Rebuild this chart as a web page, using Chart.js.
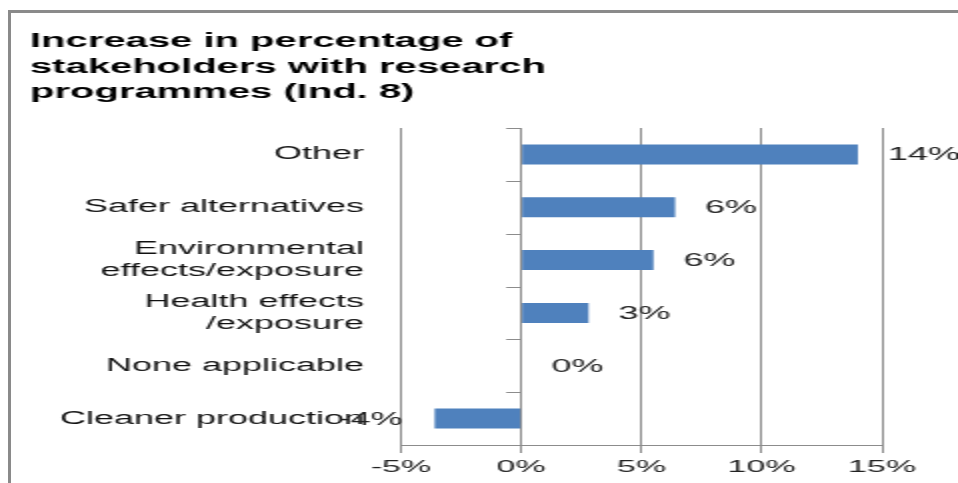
<!DOCTYPE html>
<html>
<head>
<meta charset="utf-8">
<script src="https://cdn.jsdelivr.net/npm/chart.js@4/dist/chart.umd.min.js"></script>
<style>
    html, body { margin: 0; padding: 0; background: #fff; overflow: hidden; }
    /* the original picture is stretched sideways, so the chart is drawn narrow and scaled */
    #wrap {
        position: absolute; left: 0; top: 0;
        width: 479px; height: 483px;
        transform: scaleX(2); transform-origin: 0 0;
    }
    #frame {
        position: absolute; left: 8px; top: 10px;
        width: 960px; height: 480px;
        border-left: 3px solid #8a8a8a;
        border-top: 3px solid #8a8a8a;
        pointer-events: none;
    }
</style>
</head>
<body>
<div id="wrap"><canvas id="bar-chart"></canvas></div>
<div id="frame"></div>
<script>
// Chart data
const categories = [
    'Other',
    'Safer alternatives',
    ['Environmental', 'effects/exposure'],
    ['Health effects', '/exposure'],
    'None applicable',
    'Cleaner production'
];
const increases = [14.0, 6.4, 5.5, 2.8, 0, -3.6];
const xTicks = [-5, 0, 5, 10, 15];
const titleLines = [
    'Increase in percentage of',
    'stakeholders with research',
    'programmes (Ind. 8)'
];

const FONT = "'Liberation Sans', Arial, sans-serif";
const GRID = '#8c8c8c';

// Category axis at zero with small ticks between categories
const zeroAxisPlugin = {
    id: 'zeroAxis',
    afterDatasetsDraw(chart) {
        const { ctx, scales: { x, y } } = chart;
        const x0 = x.getPixelForValue(0);
        ctx.save();
        ctx.strokeStyle = GRID;
        ctx.lineWidth = 1;
        for (let i = 0; i <= categories.length; i++) {
            const yy = Math.round(y.getPixelForValue(i - 0.5)) + 0.5;
            ctx.beginPath();
            ctx.moveTo(x0 - 7.5, yy);
            ctx.lineTo(x0, yy);
            ctx.stroke();
        }
        ctx.restore();
    }
};

// Value labels beside the bars
const valueLabelPlugin = {
    id: 'valueLabels',
    afterDatasetsDraw(chart) {
        const { ctx } = chart;
        const meta = chart.getDatasetMeta(0);
        ctx.save();
        ctx.font = '18px ' + FONT;
        ctx.fillStyle = '#222';
        ctx.textBaseline = 'middle';
        meta.data.forEach((bar, i) => {
            const v = increases[i];
            const text = Math.round(v) + '%';
            if (v < 0) {
                ctx.textAlign = 'right';
                ctx.fillText(text, bar.x - 16, bar.y + 1);
            } else {
                ctx.textAlign = 'left';
                ctx.fillText(text, bar.x + 15, bar.y + 1);
            }
        });
        ctx.restore();
    }
};

new Chart(document.getElementById('bar-chart'), {
    type: 'bar',
    data: {
        labels: categories,
        datasets: [{
            label: 'Increase',
            data: increases,
            backgroundColor: '#4f81bd',
            borderWidth: 0,
            categoryPercentage: 1,
            barPercentage: 0.38
        }]
    },
    options: {
        indexAxis: 'y',
        responsive: true,
        maintainAspectRatio: false,
        animation: false,
        layout: {
            padding: { left: 15, right: 38, top: 0, bottom: 0 }
        },
        plugins: {
            legend: { display: false },
            tooltip: { enabled: false },
            title: {
                display: true,
                text: titleLines,
                align: 'start',
                color: '#000',
                font: { family: FONT, size: 20, weight: 'bold', lineHeight: 1.275 },
                padding: { top: 29, bottom: 22.5 }
            }
        },
        scales: {
            x: {
                min: -5,
                max: 15,
                afterBuildTicks: (scale) => {
                    scale.ticks = xTicks.map(v => ({ value: v }));
                },
                afterFit: (scale) => { scale.height = 38; },
                ticks: {
                    callback: (v) => v + '%',
                    color: '#222',
                    padding: 4,
                    font: { family: FONT, size: 17 }
                },
                grid: {
                    color: GRID,
                    lineWidth: 1,
                    tickLength: 8
                },
                border: { color: GRID, width: 1 }
            },
            y: {
                afterFit: (scale) => { scale.width = 185.5; },
                ticks: {
                    color: '#111',
                    padding: 10.5,
                    font: { family: FONT, size: 18, lineHeight: 1.2 }
                },
                grid: { display: false },
                border: { display: false }
            }
        }
    },
    plugins: [zeroAxisPlugin, valueLabelPlugin]
});
</script>
</body>
</html>
